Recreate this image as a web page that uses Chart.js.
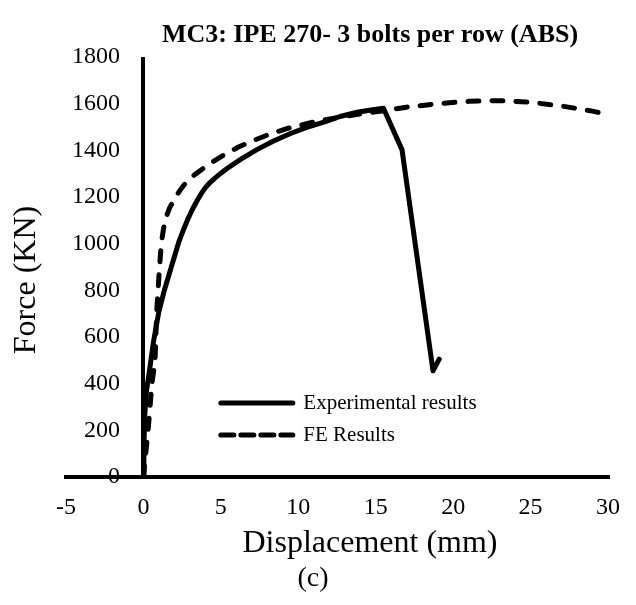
<!DOCTYPE html>
<html>
<head>
<meta charset="utf-8">
<script src="https://cdn.jsdelivr.net/npm/chart.js@4"></script>
<style>
  body { margin: 0; background: #fff; }
  #box { width: 636px; height: 605px; }
</style>
</head>
<body>
<div id="box"><canvas id="mc3-chart"></canvas></div>
<script>
// Experimental curve: displacement (mm) / force (kN)
const expDisp = [0, 0.03, 0.08, 0.2, 0.4, 0.65, 1.0, 1.35, 1.8, 2.3, 2.6, 2.9, 3.2, 3.5, 3.75, 4.0, 4.3, 4.6, 5.0, 5.4, 6.3, 7.3, 8.4, 9.5, 10.5, 11.7, 12.7, 13.8, 14.8, 15.5, 16.7, 18.7, 19.1];
const expForce = [0, 120, 260, 370, 460, 580, 710, 800, 900, 1010, 1062, 1110, 1152, 1188, 1216, 1240, 1262, 1280, 1302, 1322, 1362, 1402, 1440, 1472, 1497, 1522, 1545, 1563, 1574, 1580, 1402, 455, 505];

// FE model curve
const feDisp = [0, 0.3, 0.55, 0.75, 0.85, 1.0, 1.15, 1.3, 1.45, 1.7, 2.0, 2.35, 2.7, 3.2, 3.7, 4.4, 5.2, 6.1, 7.1, 8.1, 9.2, 11, 13, 15, 17, 19, 21, 23, 25, 27, 29, 30];
const feForce = [0, 200, 400, 500, 700, 860, 1000, 1065, 1110, 1155, 1190, 1228, 1258, 1290, 1315, 1348, 1380, 1413, 1442, 1468, 1492, 1522, 1546, 1565, 1585, 1600, 1610, 1613, 1606, 1590, 1568, 1553];

const xTicks = [-5, 0, 5, 10, 15, 20, 25, 30];
const yTicks = [0, 200, 400, 600, 800, 1000, 1200, 1400, 1600, 1800];

const chartTitle = "MC3: IPE 270- 3 bolts per row (ABS)";
const xTitle = "Displacement (mm)";
const yTitle = "Force (KN)";
const caption = "(c)";

const serif = "'Liberation Serif', 'Times New Roman', serif";
Chart.defaults.color = "#000";
Chart.defaults.font.family = serif;

// titles are drawn by hand so they sit where the original puts them
const captions = {
  id: "captions",
  afterDraw(chart) {
    const ctx = chart.ctx;
    ctx.save();
    ctx.fillStyle = "#000";
    ctx.textAlign = "center";
    ctx.textBaseline = "alphabetic";
    ctx.font = "bold 26px " + serif;
    ctx.fillText(chartTitle, 370, 42);
    ctx.font = "32px " + serif;
    ctx.fillText(xTitle, 370, 552);
    ctx.font = "28px " + serif;
    ctx.fillText(caption, 313, 586);
    ctx.translate(35, 280);
    ctx.rotate(-Math.PI / 2);
    ctx.font = "32px " + serif;
    ctx.fillText(yTitle, 0, 0);
    ctx.restore();
  },
};

// move the legend inside the plot, next to x = 5
const legendSpot = {
  id: "legendSpot",
  afterLayout(chart) {
    const lg = chart.legend;
    const pad = lg.options.labels.padding;
    lg.left = chart.scales.x.getPixelForValue(5) - pad;
    lg.top = chart.scales.y.getPixelForValue(317) - 10.5 - pad;
    lg.right = lg.left + lg.width;
    lg.bottom = lg.top + lg.height;
  },
};

const line = (label, xs, ys, dash) => ({
  label: label,
  data: xs.map((x, i) => ({ x: x, y: ys[i] })),
  borderColor: "#000",
  backgroundColor: "#000",
  borderWidth: 5,
  borderDash: dash,
  borderCapStyle: "round",
  borderJoinStyle: "round",
  pointRadius: 0,
  tension: 0,
});

const canvas = document.getElementById("mc3-chart");

new Chart(canvas, {
  type: "line",
  data: {
    datasets: [
      line("Experimental results", expDisp, expForce, []),
      line("FE Results", feDisp, feForce, [11, 13]),
    ],
  },
  options: {
    responsive: true,
    maintainAspectRatio: false,
    animation: false,
    layout: { padding: { left: 66, right: 18, top: 57, bottom: 0 } },
    plugins: {
      title: { display: false },
      tooltip: { enabled: false },
      legend: {
        position: "chartArea",
        align: "start",
        labels: {
          usePointStyle: true,
          pointStyle: "line",
          pointStyleWidth: 72,
          padding: 11,
          font: { size: 21 },
          generateLabels: (chart) =>
            Chart.defaults.plugins.legend.labels.generateLabels(chart).map((item, i) => ({
              ...item,
              lineDash: chart.data.datasets[i].borderDash.length ? [13, 7] : [],
              lineWidth: 5,
              lineCap: "round",
            })),
        },
      },
    },
    scales: {
      x: {
        type: "linear",
        min: -5,
        max: 30,
        afterBuildTicks: (s) => { s.ticks = xTicks.map((v) => ({ value: v })); },
        afterFit: (s) => { s.height = 128; },
        // the vertical axis line sits at x = 0, drawn as the grid line of that tick
        grid: {
          drawTicks: false,
          lineWidth: 4,
          color: (c) => (c.tick && c.tick.value === 0 ? "#000" : "rgba(0,0,0,0)"),
        },
        border: { color: "#000", width: 4 },
        ticks: { padding: 16, maxRotation: 0, font: { size: 24 }, callback: (v) => String(v) },
      },
      y: {
        type: "linear",
        min: 0,
        max: 1800,
        position: "left",
        afterBuildTicks: (s) => { s.ticks = yTicks.map((v) => ({ value: v })); },
        afterFit: (s) => { s.width = 0; },
        grid: { display: false, drawTicks: false },
        border: { display: false },
        ticks: { mirror: true, crossAlign: "far", padding: 6, font: { size: 24 }, callback: (v) => String(v) },
      },
    },
  },
  plugins: [captions, legendSpot],
});
</script>
</body>
</html>
